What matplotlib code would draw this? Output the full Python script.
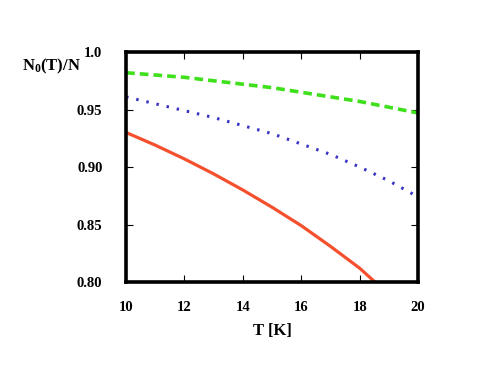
import matplotlib.pyplot as plt
import numpy as np

# Data
T = [10, 11, 12, 13, 14, 15, 16, 17, 18, 19, 20]
green = [0.982, 0.980, 0.978, 0.975, 0.972, 0.969, 0.965, 0.961, 0.957, 0.952, 0.947]
blue = [0.961, 0.955, 0.949, 0.943, 0.936, 0.929, 0.920, 0.911, 0.900, 0.888, 0.874]
red = [0.930, 0.919, 0.907, 0.894, 0.880, 0.865, 0.849, 0.831, 0.812, 0.789, 0.765]

xticks = [10, 12, 14, 16, 18, 20]
yticks = [0.80, 0.85, 0.90, 0.95, 1.0]
ytick_labels = ['0.80', '0.85', '0.90', '0.95', '1.0']

plt.rcParams['font.family'] = 'Liberation Serif'
plt.rcParams['font.weight'] = 'bold'
plt.rcParams['mathtext.fontset'] = 'custom'
plt.rcParams['mathtext.rm'] = 'Liberation Serif:bold'
plt.rcParams['mathtext.bf'] = 'Liberation Serif:bold'
plt.rcParams['mathtext.default'] = 'bf'

fig = plt.figure(figsize=(4.85, 3.77), dpi=100)
ax = fig.add_axes([0.26, 0.252, 0.602, 0.61])

ax.plot(T, green, color='#3ee01b', lw=2.6, ls=(0, (2.4, 1.4)))
ax.plot(T, blue, color='#3a34c4', lw=2.2, ls=(0, (0.8, 2.6)))
ax.plot(T, red, color='#f5502e', lw=2.3)

ax.set_xlim(10, 20)
ax.set_ylim(0.80, 1.0)
ax.set_xticks(xticks)
ax.set_yticks(yticks)
ax.set_yticklabels(ytick_labels)
ax.tick_params(direction='in', length=5, width=0.8, top=True, right=True,
               labelsize=10.5, pad=14)
ax.tick_params(axis='y', pad=17)
for s in ax.spines.values():
    s.set_linewidth(2.6)

ax.set_xlabel('T [K]', fontsize=12, fontweight='bold', labelpad=6)
fig.text(0.045, 0.825, r'N$_0$(T)/N', fontsize=12, fontweight='bold',
         va='center', ha='left')

fig.savefig('out.png', dpi=100)
